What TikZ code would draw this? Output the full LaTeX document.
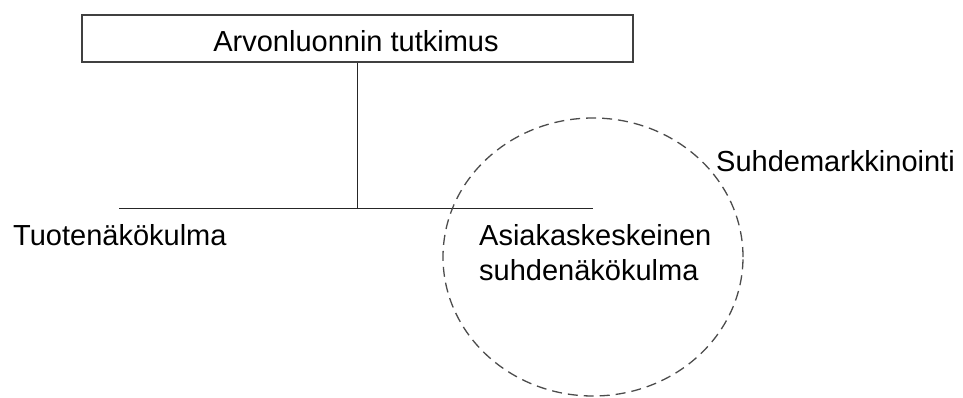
\documentclass[tikz,border=0pt]{standalone}
\usepackage{fontspec}
\setmainfont{Liberation Sans}
\usetikzlibrary{shapes.geometric}
\begin{document}
\begin{tikzpicture}[x=1pt,y=-1pt,
  lbl/.style={inner sep=0pt, font=\fontsize{29}{35}\selectfont},
  boxline/.style={draw=black!75, line width=1.4pt},
  thin/.style={draw=black!85, line width=1.1pt},
  dashring/.style={draw=black!70, line width=1.3pt, dash pattern=on 10pt off 6pt}]
\useasboundingbox (0,0) rectangle (963,397);
\node[boxline, minimum width=551pt, minimum height=47pt, inner sep=0pt] (top) at (357.5,38.5) {};
\node[lbl, anchor=base] (toptext) at (356,51) {Arvonluonnin tutkimus};
\coordinate (junction) at (357.5,208.5);
\coordinate (hl) at (119,208.5);
\coordinate (hr) at (593,208.5);
\draw[thin] (top.south -| junction) -- (junction);
\draw[thin] (hl) -- (hr);
\node[lbl, anchor=base west] (tuote) at (13,245) {Tuotenäkökulma};
\node[lbl, anchor=north west, align=left] (asiakas) at (479,224) {Asiakaskeskeinen\\suhdenäkökulma};
\node[lbl, anchor=base west] (suhde) at (716,171) {Suhdemarkkinointi};
\node[dashring, ellipse, minimum width=300pt, minimum height=278pt, inner sep=0pt] (ring) at (593,257) {};
\end{tikzpicture}
\end{document}
